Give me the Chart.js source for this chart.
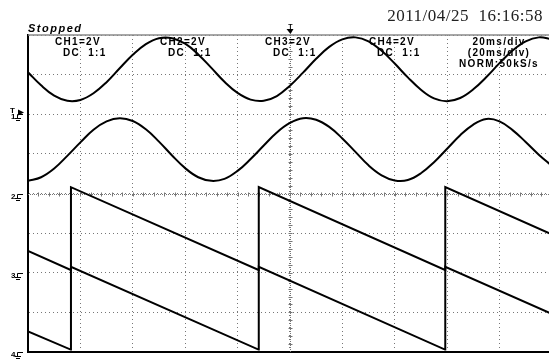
<!DOCTYPE html>
<html>
<head>
<meta charset="utf-8">
<script src="https://cdn.jsdelivr.net/npm/chart.js@4.4.0/dist/chart.umd.min.js"></script>
<style>
  html, body { margin: 0; padding: 0; background: #fff; overflow: hidden; }
</style>
</head>
<body>
<canvas id="scope" width="549" height="360"></canvas>
<script>
// sample times (ms) for the two sine channels, 20 ms/div
const timeMs = [0, 5, 10, 15, 20, 25, 30, 35, 40, 45, 50, 55, 60, 65, 70, 75, 80, 85, 90, 95, 100,
  105, 110, 115, 120, 125, 130, 135, 140, 145, 150, 155, 160, 165, 170, 175, 180, 185, 190, 195, 200];

// screen positions in divisions (0 = centre line)
const ch1Div = [3.06, 2.73, 2.47, 2.34, 2.36, 2.53, 2.81, 3.16, 3.50, 3.77, 3.92, 3.92, 3.78, 3.51, 3.17,
  2.82, 2.54, 2.37, 2.34, 2.46, 2.72, 3.05, 3.40, 3.70, 3.89, 3.94, 3.84, 3.60, 3.28, 2.93, 2.62,
  2.40, 2.33, 2.41, 2.63, 2.94, 3.29, 3.61, 3.84, 3.94, 3.89];
const ch2Div = [0.32, 0.41, 0.63, 0.95, 1.29, 1.61, 1.82, 1.90, 1.83, 1.62, 1.31, 0.96, 0.64, 0.41, 0.32,
  0.37, 0.57, 0.87, 1.21, 1.54, 1.78, 1.90, 1.86, 1.68, 1.39, 1.05, 0.71, 0.46, 0.33, 0.34, 0.51,
  0.79, 1.13, 1.47, 1.74, 1.88, 1.82, 1.60, 1.30, 0.98, 0.70];

// sawtooth channels: corner points only
const sawTimeMs = [0, 16.3, 16.4, 88.0, 88.1, 159.2, 159.3, 200];
const ch3Div = [-1.45, -1.93, 0.16, -1.93, 0.16, -1.93, 0.16, -1.03];
const ch4Div = [-3.48, -3.94, -1.85, -3.94, -1.85, -3.94, -1.85, -3.04];

// ground reference markers (division of each channel's zero)
const groundDiv = [2, 0, -2, -4];
const channelNames = ['1', '2', '3', '4'];

const chLabels = ['CH1=2V', 'CH2=2V', 'CH3=2V', 'CH4=2V'];
const couplingLabels = ['DC  1:1', 'DC  1:1', 'DC  1:1', 'DC  1:1'];
const timebaseLabels = ['20ms/div', '(20ms/div)', 'NORM:50kS/s'];
const statusText = 'Stopped';
const dateText = '2011/04/25  16:16:58';

const pts = (xs, ys) => xs.map((t, i) => ({ x: t, y: ys[i] }));

const scopeDecor = {
  id: 'scopeDecor',
  beforeDatasetsDraw(chart) {
    const { ctx, chartArea: a, scales: { x, y } } = chart;
    const cx = Math.round(x.getPixelForValue(100)) + 0.5;
    const cy = Math.round(y.getPixelForValue(0)) + 0.5;
    ctx.save();
    // top frame line
    ctx.strokeStyle = '#8a8a8a';
    ctx.lineWidth = 1.5;
    ctx.beginPath();
    ctx.moveTo(a.left, a.top);
    ctx.lineTo(a.right, a.top);
    ctx.stroke();
    // centre cross with sub-division ticks
    ctx.strokeStyle = '#777';
    ctx.lineWidth = 1;
    ctx.setLineDash([1, 1]);
    ctx.beginPath();
    ctx.moveTo(a.left, cy); ctx.lineTo(a.right, cy);
    ctx.moveTo(cx, a.top); ctx.lineTo(cx, a.bottom);
    ctx.stroke();
    ctx.setLineDash([]);
    ctx.beginPath();
    for (let t = 4; t < 200; t += 4) {
      const px = Math.round(x.getPixelForValue(t)) + 0.5;
      ctx.moveTo(px, cy - 2); ctx.lineTo(px, cy + 2);
    }
    for (let d = -3.8; d < 4; d += 0.2) {
      const py = Math.round(y.getPixelForValue(d)) + 0.5;
      ctx.moveTo(cx - 2, py); ctx.lineTo(cx + 2, py);
    }
    ctx.stroke();

    // texts
    ctx.fillStyle = '#000';
    ctx.textBaseline = 'alphabetic';
    ctx.textAlign = 'left';
    ctx.font = 'italic bold 11px "Liberation Sans", Arial, sans-serif';
    ctx.letterSpacing = '1.5px';
    ctx.fillText(statusText, 28, 32);

    ctx.font = 'bold 10px "Liberation Sans", Arial, sans-serif';
    ctx.letterSpacing = '1.3px';
    const colX = [55, 160, 265, 369];
    chLabels.forEach((s, i) => ctx.fillText(s, colX[i], 45));
    couplingLabels.forEach((s, i) => ctx.fillText(s, colX[i] + 8, 56));
    ctx.textAlign = 'center';
    timebaseLabels.forEach((s, i) => ctx.fillText(s, 499, 45 + i * 11));

    ctx.letterSpacing = '0.5px';
    ctx.textAlign = 'right';
    ctx.fillStyle = '#222';
    ctx.font = '17px "Liberation Serif", "DejaVu Serif", serif';
    ctx.fillText(dateText, 543, 21);
    ctx.letterSpacing = '0px';

    // trigger position marker
    ctx.fillStyle = '#000';
    ctx.font = 'bold 7px "Liberation Sans", sans-serif';
    ctx.textAlign = 'center';
    ctx.fillText('T', cx, 29);
    ctx.beginPath();
    ctx.moveTo(cx - 4, 29); ctx.lineTo(cx + 3, 29); ctx.lineTo(cx, 34); ctx.closePath();
    ctx.fill();

    // channel ground markers
    ctx.strokeStyle = '#000';
    ctx.lineWidth = 1;
    ctx.font = 'bold 8px "Liberation Sans", sans-serif';
    ctx.textAlign = 'left';
    groundDiv.forEach((g, i) => {
      const gy = Math.round(y.getPixelForValue(g)) + 0.5;
      ctx.fillText(channelNames[i], 11, gy + 4);
      ctx.beginPath();
      ctx.moveTo(23, gy); ctx.lineTo(17.5, gy); ctx.lineTo(17.5, gy + 4);
      ctx.moveTo(15, gy + 4); ctx.lineTo(21, gy + 4);
      ctx.moveTo(16, gy + 6); ctx.lineTo(20, gy + 6);
      ctx.stroke();
      if (i === 0) {
        ctx.beginPath();
        ctx.moveTo(18, gy - 5); ctx.lineTo(24, gy - 2); ctx.lineTo(18, gy + 1); ctx.closePath();
        ctx.fill();
        ctx.fillText('T', 10, gy - 2);
      }
    });
    ctx.restore();
  }
};

const traceStyle = { showLine: true, pointRadius: 0, borderColor: '#000', borderWidth: 2, fill: false };

new Chart(document.getElementById('scope'), {
  type: 'scatter',
  data: {
    datasets: [
      { ...traceStyle, label: 'CH1', data: pts(timeMs, ch1Div), tension: 0.4 },
      { ...traceStyle, label: 'CH2', data: pts(timeMs, ch2Div), tension: 0.4 },
      { ...traceStyle, label: 'CH3', data: pts(sawTimeMs, ch3Div), tension: 0 },
      { ...traceStyle, label: 'CH4', data: pts(sawTimeMs, ch4Div), tension: 0 }
    ]
  },
  options: {
    responsive: false,
    animation: false,
    layout: { padding: { left: 28, right: 0, top: 35, bottom: 8 } },
    plugins: { legend: { display: false }, tooltip: { enabled: false } },
    scales: {
      x: {
        type: 'linear', min: 0, max: 198.9,
        ticks: { display: false, stepSize: 20, includeBounds: false },
        grid: { color: '#777', drawTicks: false, lineWidth: 1 },
        border: { display: true, color: '#000', width: 2, dash: [1, 3] }
      },
      y: {
        min: -4, max: 4,
        ticks: { display: false, stepSize: 1 },
        grid: { color: '#777', drawTicks: false, lineWidth: 1 },
        border: { display: true, color: '#000', width: 2, dash: [1, 3] }
      }
    }
  },
  plugins: [scopeDecor]
});
</script>
</body>
</html>
